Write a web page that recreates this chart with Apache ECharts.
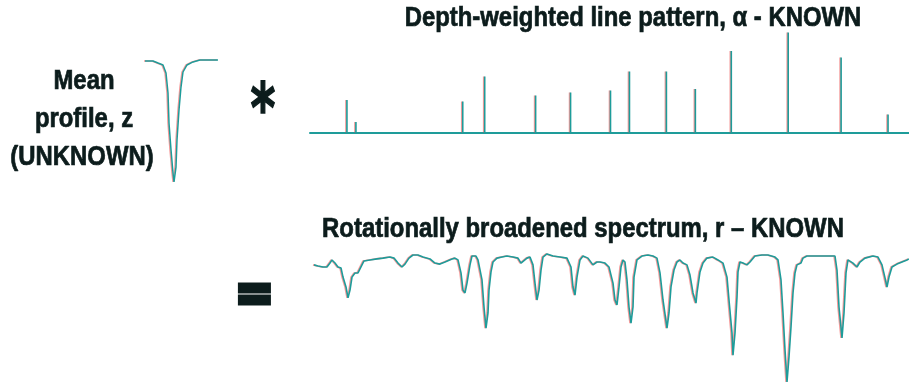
<!DOCTYPE html>
<html>
<head>
<meta charset="utf-8">
<script src="https://cdn.jsdelivr.net/npm/echarts@6/dist/echarts.min.js"></script>
<style>
html,body{margin:0;padding:0;background:#fff;}
#chart{width:909px;height:385px;}
</style>
</head>
<body>
<div id="chart"></div>
<script>
// ---- Data ----
// Mean profile z: velocity offset vs normalized flux
var profileVel  = [-29, -21, -16, -11, -8, -6, -5, -3, -1, 0, 2, 3, 5, 7, 9, 13, 19, 26, 44];
var profileFlux = [0.994, 0.994, 0.981, 0.969, 0.919, 0.794, 0.606, 0.438, 0.294, 0.238, 0.331, 0.5, 0.688, 0.831, 0.925, 0.969, 0.988, 1.0, 1.0];

// Depth-weighted line pattern alpha: line position vs weight
var linePos    = [36, 45, 152, 174, 225, 260, 300, 319, 356, 385, 421, 478, 531, 578];
var lineWeight = [0.325, 0.105, 0.31, 0.56, 0.37, 0.40, 0.42, 0.61, 0.61, 0.435, 0.815, 1.0, 0.75, 0.18];

// Rotationally broadened spectrum r: position vs normalized flux
var specPos = [5, 9, 14, 18, 21, 23, 26, 29, 32, 34, 37, 39, 41, 43, 46, 49, 52, 55, 61, 68, 74, 81, 85, 89, 93, 96, 100, 104, 109, 114, 121, 126, 131, 136, 143, 146, 149, 152, 154, 156, 158, 161, 163, 167, 169, 173, 175, 177, 179, 180, 182, 184, 188, 193, 198, 204, 209, 212, 214, 218, 221, 224, 226, 228, 230, 232, 234, 238, 244, 251, 258, 262, 264, 266, 268, 271, 274, 279, 284, 288, 291, 296, 300, 304, 306, 308, 310, 312, 314, 316, 318, 320, 322, 324, 325, 328, 333, 339, 344, 348, 351, 354, 358, 360, 362, 365, 368, 371, 374, 378, 381, 384, 387, 388, 391, 394, 398, 404, 409, 414, 418, 420, 423, 424, 426, 428, 429, 431, 434, 438, 441, 446, 453, 459, 466, 469, 472, 474, 476, 478, 480, 482, 484, 486, 488, 492, 494, 498, 508, 518, 526, 528, 530, 533, 535, 537, 539, 541, 544, 548, 551, 556, 564, 569, 573, 576, 578, 580, 583, 588, 593, 598, 600];
var specFlux = [0.962, 0.958, 0.954, 0.954, 0.969, 0.981, 0.969, 0.954, 0.950, 0.915, 0.877, 0.835, 0.865, 0.915, 0.931, 0.931, 0.954, 0.977, 0.981, 0.985, 0.988, 0.992, 0.988, 0.969, 0.954, 0.965, 0.988, 1.0, 1.0, 0.992, 0.985, 0.969, 0.965, 0.973, 0.985, 0.988, 0.981, 0.931, 0.865, 0.854, 0.892, 0.962, 0.996, 0.996, 0.981, 0.904, 0.800, 0.719, 0.777, 0.865, 0.935, 0.973, 0.988, 0.992, 0.996, 0.992, 0.988, 0.969, 0.965, 0.988, 0.992, 0.962, 0.892, 0.827, 0.865, 0.942, 0.992, 1.004, 0.996, 0.992, 0.988, 0.954, 0.877, 0.846, 0.915, 0.981, 0.996, 0.988, 0.962, 0.973, 0.973, 0.969, 0.954, 0.892, 0.827, 0.808, 0.877, 0.954, 0.981, 0.973, 0.904, 0.800, 0.738, 0.800, 0.915, 0.981, 0.996, 1.0, 0.996, 0.988, 0.931, 0.827, 0.719, 0.777, 0.877, 0.942, 0.973, 0.981, 0.969, 0.962, 0.923, 0.854, 0.815, 0.854, 0.935, 0.969, 0.988, 0.992, 0.981, 0.969, 0.915, 0.827, 0.700, 0.615, 0.700, 0.838, 0.935, 0.973, 0.969, 0.962, 0.973, 0.996, 1.0, 1.0, 0.992, 0.981, 0.904, 0.777, 0.635, 0.512, 0.608, 0.723, 0.854, 0.931, 0.962, 0.969, 0.988, 0.996, 0.996, 0.996, 0.996, 0.942, 0.800, 0.681, 0.777, 0.931, 0.981, 0.988, 0.969, 0.954, 0.973, 0.988, 0.996, 0.992, 0.962, 0.912, 0.877, 0.915, 0.954, 0.965, 0.973, 0.981, 0.985];

// Text labels
var profileLabel = ['Mean', 'profile, z', '(UNKNOWN)'];
var patternTitle = 'Depth-weighted line pattern, \u03b1 - KNOWN';
var spectrumTitle = 'Rotationally broadened spectrum, r \u2013 KNOWN';
var convolveSymbol = '*';
var equalsSymbol = '=';

// ---- Chart ----
var TEAL = '#1e9c9a';
var INK = '#0c1c1c';
var FONT = '"Liberation Sans", Arial, sans-serif';
var NARROW = 0.885;

function zip(a, b) { return a.map(function (v, i) { return [v, b[i]]; }); }

var chart = echarts.init(document.getElementById('chart'));
var lineShadow = { shadowColor: 'rgba(235,70,70,0.55)', shadowOffsetX: -1, shadowBlur: 0 };
var textShadow = { shadowColor: 'rgba(235,80,80,0.45)', shadowOffsetX: -1, shadowOffsetY: -1, shadowBlur: 1 };

function label(txt, x, y, size) {
  return { type: 'text', x: x, y: y, scaleX: NARROW,
    style: Object.assign({ text: txt, font: 'bold ' + size + 'px ' + FONT, fill: INK, stroke: INK, lineWidth: 0.7,
      align: 'center', verticalAlign: 'middle' }, textShadow) };
}

chart.setOption({
  animation: false,
  backgroundColor: '#ffffff',
  grid: [
    { left: 144, width: 75, top: 60, height: 128 },
    { left: 310, right: 0, top: 32.5, height: 100 },
    { left: 309, right: 0, top: 249.8, height: 135.2 }
  ],
  xAxis: [
    { gridIndex: 0, type: 'value', min: -30, max: 45, show: false },
    { gridIndex: 1, type: 'value', min: -1, max: 599, show: true,
      axisLine: { show: true, onZero: false, lineStyle: { color: TEAL, width: 2 } },
      axisTick: { show: false }, axisLabel: { show: false }, splitLine: { show: false } },
    { gridIndex: 2, type: 'value', min: 0, max: 600, show: false }
  ],
  yAxis: [
    { gridIndex: 0, type: 'value', min: 0.2, max: 1.0, show: false },
    { gridIndex: 1, type: 'value', min: 0, max: 1.0, show: false },
    { gridIndex: 2, type: 'value', min: 0.5, max: 1.02, show: false }
  ],
  series: [
    { type: 'line', xAxisIndex: 0, yAxisIndex: 0, data: zip(profileVel, profileFlux),
      showSymbol: false, smooth: false, clip: false,
      lineStyle: Object.assign({ color: TEAL, width: 1.5 }, lineShadow) },
    { type: 'bar', xAxisIndex: 1, yAxisIndex: 1, data: zip(linePos, lineWeight),
      barWidth: 1.6, itemStyle: Object.assign({ color: TEAL }, lineShadow) },
    { type: 'line', xAxisIndex: 2, yAxisIndex: 2, data: zip(specPos, specFlux),
      showSymbol: false, smooth: false, clip: false,
      lineStyle: Object.assign({ color: TEAL, width: 1.6 }, lineShadow) }
  ],
  graphic: [
    label(profileLabel[0], 84, 82, 27),
    label(profileLabel[1], 84, 120, 27),
    label(profileLabel[2], 82, 158, 27),
    label(patternTitle, 633, 19, 27),
    label(spectrumTitle, 583, 230, 27),
    { type: 'text', x: 263, y: 114, scaleX: 0.68,
      style: { text: convolveSymbol, font: 'bold 70px "DejaVu Sans", sans-serif', fill: INK, stroke: INK, lineWidth: 1.5, align: 'center', verticalAlign: 'middle' } },
    { type: 'text', x: 254.5, y: 296, scaleX: 0.88,
      style: { text: equalsSymbol, font: 'bold 52px "DejaVu Sans", sans-serif', fill: INK, stroke: INK, lineWidth: 5, align: 'center', verticalAlign: 'middle' } }
  ]
});
</script>
</body>
</html>
